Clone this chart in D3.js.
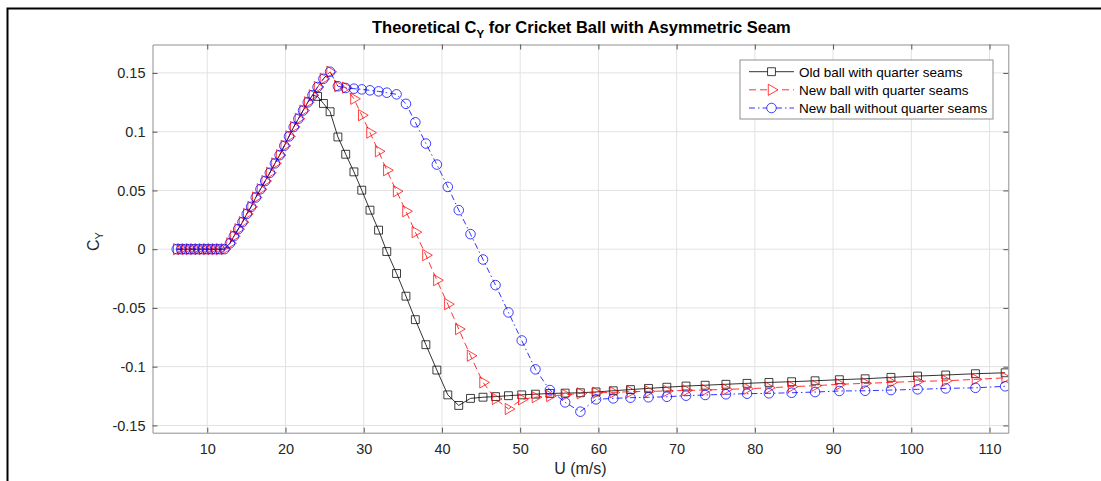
<!DOCTYPE html>
<html>
<head>
<meta charset="utf-8">
<script src="https://cdn.jsdelivr.net/npm/d3@7"></script>
<style>
    html, body { margin: 0; padding: 0; background: #fff; }
    svg { display: block; font-family: "Liberation Sans", Arial, Helvetica, sans-serif; }
</style>
</head>
<body>
<div id="chart"></div>
<script>
// Flow speed U (m/s), shared by the three curves
const speeds = [
    6.1, 6.65, 7.2, 7.75, 8.3, 8.85, 9.4, 9.95, 10.5, 11.05, 11.6, 12.2,
    12.9, 13.4, 13.95, 14.5, 15.05, 15.6, 16.2, 16.8, 17.4, 18.0, 18.65, 19.25,
    19.85, 20.45, 21.05, 21.65, 22.25, 22.85, 23.45, 24.1, 24.85, 25.7,
    26.7, 27.7, 28.75, 29.75, 30.8, 31.9, 32.95, 34.2, 35.4, 36.6,
    37.95, 39.35, 40.75, 42.15, 43.65, 45.25, 46.85, 48.5, 50.2, 51.95,
    53.8, 55.75, 57.7, 59.7, 61.9, 64.1, 66.4, 68.75, 71.2, 73.65,
    76.3, 79.0, 81.8, 84.7, 87.7, 90.8, 94.1, 97.4, 100.8, 104.4, 108.2, 112.0
];

// common part (flat + rising) for the first 34 speeds
const riseCy = [
    0, 0, 0, 0, 0, 0, 0, 0, 0, 0, 0, 0,
    0.005, 0.011, 0.017, 0.023, 0.030, 0.036, 0.044, 0.051, 0.058, 0.065, 0.073, 0.080,
    0.088, 0.096, 0.104, 0.111, 0.118, 0.125, 0.131, 0.138, 0.145, 0.151
];

// old ball, from speed index 31 on
const oldQuarterTail = [
    0.130, 0.124, 0.117,
    0.0955, 0.0808, 0.0658, 0.0502, 0.0332, 0.0162, -0.002, -0.0207, -0.040, -0.060,
    -0.0813, -0.1029, -0.124, -0.133, -0.127, -0.126, -0.1255, -0.1247, -0.124, -0.1234,
    -0.1228, -0.1225, -0.1222, -0.1215, -0.1205, -0.1195, -0.1185, -0.1175, -0.1165, -0.1158,
    -0.115, -0.1142, -0.1134, -0.1128, -0.112, -0.1111, -0.1103, -0.1091, -0.108, -0.1071,
    -0.106, -0.1052
];

// new ball with quarter seams, from speed index 34 on
const newQuarterTail = [
    0.1387, 0.1375, 0.128, 0.114, 0.0992, 0.0833, 0.0672, 0.0493, 0.0323, 0.0145,
    -0.0051, -0.0264, -0.0468, -0.068, -0.0907, -0.1134, -0.1275, -0.136, -0.1278, -0.126,
    -0.125, -0.1239, -0.1227, -0.1222, -0.1219, -0.1213, -0.121, -0.1207, -0.1202, -0.1199,
    -0.1193, -0.1188, -0.118, -0.117, -0.1162, -0.115, -0.1142, -0.1134, -0.1125, -0.112,
    -0.1108, -0.1095
];

// new ball without quarter seams, from speed index 34 on
const newPlainTail = [
    0.1387, 0.1372, 0.1366, 0.136, 0.1352, 0.1343, 0.1332, 0.1318, 0.1237, 0.108,
    0.0899, 0.072, 0.053, 0.0332, 0.0128, -0.0088, -0.0306, -0.0538, -0.0777, -0.1023,
    -0.1199, -0.1304, -0.1383, -0.1278, -0.127, -0.1264, -0.1261, -0.1256, -0.1247, -0.1241,
    -0.1235, -0.123, -0.1227, -0.1222, -0.1216, -0.1207, -0.1205, -0.1199, -0.1193, -0.1185,
    -0.118, -0.1167
];

const seriesNames = [
    "Old ball with quarter seams",
    "New ball with quarter seams",
    "New ball without quarter seams"
];

const xTicks = [10, 20, 30, 40, 50, 60, 70, 80, 90, 100, 110];
const yTicks = [-0.15, -0.1, -0.05, 0, 0.05, 0.1, 0.15];

class CyChart {
    constructor(container) {
        this._container = container;
        this._width = 1101;
        this._height = 481;
        this._box = { left: 152.5, right: 1008.3, top: 44.5, bottom: 432.7 };
        this._svg = null;

        this._x = d3.scaleLinear().domain([3, 112.4]).range([this._box.left, this._box.right]);
        this._y = d3.scaleLinear().domain([-0.1562, 0.1742]).range([this._box.bottom, this._box.top]);

        this._series = [
            { name: seriesNames[0], values: riseCy.slice(0, 31).concat(oldQuarterTail),
              color: "#000", dash: null, marker: "square", markFrom: 31 },
            { name: seriesNames[1], values: riseCy.concat(newQuarterTail),
              color: "#ff0000", dash: "7,4", marker: "triangle", markFrom: 0 },
            { name: seriesNames[2], values: riseCy.concat(newPlainTail),
              color: "#0000ff", dash: "6,3,1.5,3", marker: "circle", markFrom: 0 }
        ];
    }

    render() {
        this._svg = d3.select(this._container).append("svg")
            .attr("width", this._width)
            .attr("height", this._height)
            .attr("viewBox", [0, 0, this._width, this._height]);

        this._svg.append("rect")
            .attr("width", this._width).attr("height", this._height).attr("fill", "#fff");

        this._renderFrame();
        this._renderGrid();
        this._renderSeries();
        this._renderAxes();
        this._renderLabels();
        this._renderLegend();
    }

    _renderFrame() {
        this._svg.append("path")
            .attr("d", `M7.5,${this._height} V8.5 H${this._width}`)
            .attr("fill", "none")
            .attr("stroke", "#000")
            .attr("stroke-width", 2);
    }

    _renderGrid() {
        const
            b = this._box,
            g = this._svg.append("g").attr("stroke", "#e2e2e2").attr("stroke-width", 1);

        g.selectAll(".gx").data(xTicks).join("line")
            .attr("x1", d => this._x(d)).attr("x2", d => this._x(d))
            .attr("y1", b.top).attr("y2", b.bottom);
        g.selectAll(".gy").data(yTicks).join("line")
            .attr("y1", d => this._y(d)).attr("y2", d => this._y(d))
            .attr("x1", b.left).attr("x2", b.right);
    }

    _marker(kind) {
        if (kind === "square") return d3.symbol(d3.symbolSquare, 62)();
        if (kind === "circle") return d3.symbol(d3.symbolCircle, 72)();
        return d3.symbol(d3.symbolTriangle, 54)();
    }

    _markerTransform(kind, px, py) {
        return kind === "triangle"
            ? `translate(${px},${py}) rotate(90)`
            : `translate(${px},${py})`;
    }

    _renderSeries() {
        const b = this._box;
        this._svg.append("clipPath").attr("id", "plotClip")
            .append("rect")
            .attr("x", b.left).attr("y", b.top)
            .attr("width", b.right - b.left).attr("height", b.bottom - b.top);

        const
            plot = this._svg.append("g").attr("clip-path", "url(#plotClip)"),
            line = d3.line()
                .x((d, i) => this._x(speeds[i]))
                .y(d => this._y(d));

        this._series.forEach(s => {
            const g = plot.append("g");
            g.append("path")
                .attr("d", line(s.values))
                .attr("fill", "none")
                .attr("stroke", s.color)
                .attr("stroke-opacity", 0.8)
                .attr("stroke-width", 1)
                .attr("stroke-dasharray", s.dash);

            const shape = this._marker(s.marker);
            g.selectAll("path.mk")
                .data(s.values.map((v, i) => [speeds[i], v]).filter((d, i) => i >= s.markFrom))
                .join("path")
                .attr("class", "mk")
                .attr("d", shape)
                .attr("transform", d => this._markerTransform(s.marker, this._x(d[0]), this._y(d[1])))
                .attr("fill", "none")
                .attr("stroke", s.color)
                .attr("stroke-opacity", 0.75)
                .attr("stroke-width", 1);
        });
    }

    _renderAxes() {
        const b = this._box;

        const style = (g, labels) => {
            g.select(".domain").attr("stroke", "#8f8f8f").attr("stroke-width", 1);
            g.selectAll(".tick line").attr("stroke", "#555");
            g.selectAll(".tick text")
                .attr("fill", labels ? "#262626" : "none")
                .attr("font-size", 14.5)
                .attr("font-family", "Liberation Sans, Arial, sans-serif");
        };

        this._svg.append("g")
            .attr("transform", `translate(0,${b.bottom})`)
            .call(d3.axisBottom(this._x).tickValues(xTicks).tickSizeInner(-5).tickSizeOuter(0).tickPadding(11))
            .call(g => style(g, true));

        this._svg.append("g")
            .attr("transform", `translate(0,${b.top})`)
            .call(d3.axisTop(this._x).tickValues(xTicks).tickSizeInner(-5).tickSizeOuter(0).tickFormat(""))
            .call(g => style(g, false));

        this._svg.append("g")
            .attr("transform", `translate(${b.left},0)`)
            .call(d3.axisLeft(this._y).tickValues(yTicks).tickSizeInner(-5).tickSizeOuter(0)
                .tickPadding(7).tickFormat(d => String(d)))
            .call(g => style(g, true));

        this._svg.append("g")
            .attr("transform", `translate(${b.right},0)`)
            .call(d3.axisRight(this._y).tickValues(yTicks).tickSizeInner(-5).tickSizeOuter(0).tickFormat(""))
            .call(g => style(g, false));
    }

    _renderLabels() {
        const
            b = this._box,
            cx = (b.left + b.right) / 2,
            cy = (b.top + b.bottom) / 2;

        const title = this._svg.append("text")
            .attr("x", cx + 1)
            .attr("y", 33)
            .attr("text-anchor", "middle")
            .attr("font-size", 16.5)
            .attr("font-weight", "bold")
            .attr("fill", "#000");
        title.append("tspan").text("Theoretical C");
        title.append("tspan").attr("dy", 4.5).attr("font-size", 11.5).text("Y");
        title.append("tspan").attr("dy", -4.5).text(" for Cricket Ball with Asymmetric Seam");

        this._svg.append("text")
            .attr("x", cx)
            .attr("y", 474)
            .attr("text-anchor", "middle")
            .attr("font-size", 16)
            .attr("fill", "#262626")
            .text("U (m/s)");

        const yl = this._svg.append("text")
            .attr("transform", `translate(99,${cy + 3}) rotate(-90)`)
            .attr("text-anchor", "middle")
            .attr("font-size", 16)
            .attr("fill", "#262626");
        yl.append("tspan").text("C");
        yl.append("tspan").attr("dy", 4).attr("font-size", 11).text("Y");
    }

    _renderLegend() {
        const
            lx = 740, ly = 60, lw = 253, lh = 59,
            rows = [71.7, 89.8, 108],
            g = this._svg.append("g");

        g.append("rect")
            .attr("x", lx).attr("y", ly).attr("width", lw).attr("height", lh)
            .attr("fill", "#fff").attr("stroke", "#8f8f8f").attr("stroke-width", 1);

        this._series.forEach((s, i) => {
            const ry = rows[i];
            g.append("line")
                .attr("x1", 749).attr("x2", 794).attr("y1", ry).attr("y2", ry)
                .attr("stroke", s.color).attr("stroke-opacity", 0.8)
                .attr("stroke-width", 1).attr("stroke-dasharray", s.dash);
            g.append("path")
                .attr("d", this._marker(s.marker))
                .attr("transform", this._markerTransform(s.marker, 771.5, ry))
                .attr("fill", "#fff")
                .attr("stroke", s.color).attr("stroke-opacity", 0.75).attr("stroke-width", 1);
            g.append("text")
                .attr("x", 799).attr("y", ry + 5)
                .attr("font-size", 13.5)
                .attr("fill", "#000")
                .text(s.name);
        });
    }
}

new CyChart(document.getElementById("chart")).render();
</script>
</body>
</html>
